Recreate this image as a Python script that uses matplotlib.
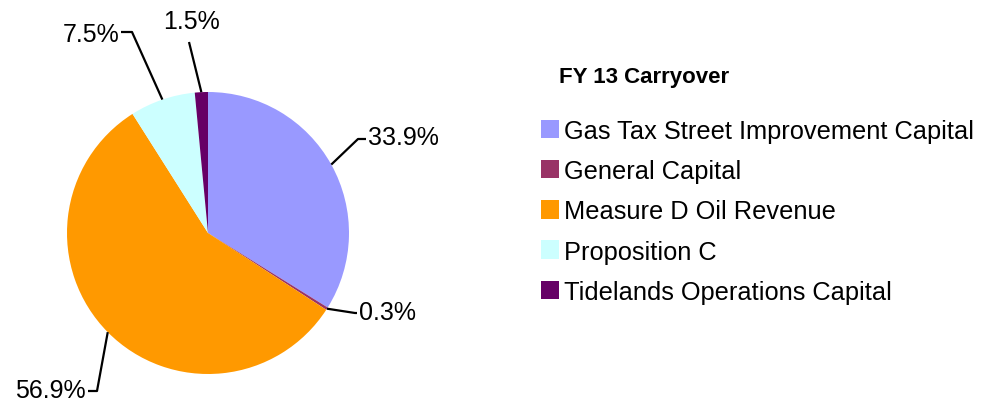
import numpy as np
import matplotlib.pyplot as plt
from matplotlib.patches import Patch

plt.rcParams['font.family'] = ['Liberation Sans', 'DejaVu Sans']

# data
funds = ['Gas Tax Street Improvement Capital', 'General Capital',
         'Measure D Oil Revenue', 'Proposition C', 'Tidelands Operations Capital']
shares = [33.9, 0.3, 56.9, 7.5, 1.5]
pct_labels = ['33.9%', '0.3%', '56.9%', '7.5%', '1.5%']
colors = ['#9999FF', '#993366', '#FF9900', '#CCFFFF', '#660066']
title = 'FY 13 Carryover'

W, H = 1000, 406
fig = plt.figure(figsize=(W / 100, H / 100), dpi=100)
ax = fig.add_axes([0, 0, 1, 1])

cx, cy, R = 208, H - 234, 141
wedges, _ = ax.pie(shares, colors=colors, startangle=90, counterclock=False,
                   center=(cx, cy), radius=R, frame=True,
                   wedgeprops=dict(linewidth=0))
ax.set_xlim(0, W)
ax.set_ylim(0, H)
ax.set_aspect('equal')
ax.axis('off')

# leader line layout: elbow point, end of horizontal tick, text anchor
elbows = [(358, H - 140), (355, H - 314), (97, H - 392), (132, H - 33), (189, H - 43)]
ends = [(366, H - 140), (357, H - 314), (88, H - 392), (121, H - 33), (189, H - 43)]
text_pos = [(368, H - 138), (359, H - 313), (86, H - 391), (119, H - 35), (191, H - 22)]
aligns = ['left', 'left', 'right', 'right', 'center']

for w, el, en, tp, ha, lab in zip(wedges, elbows, ends, text_pos, aligns, pct_labels):
    ang = np.deg2rad((w.theta1 + w.theta2) / 2)
    sx, sy = cx + R * np.cos(ang), cy + R * np.sin(ang)
    ax.plot([sx, el[0], en[0]], [sy, el[1], en[1]], color='black', lw=1.6,
            solid_capstyle='butt')
    ax.text(tp[0], tp[1], lab, ha=ha, va='center', fontsize=18)

fig.text(559 / W, 1 - 78 / H, title, fontsize=16, fontweight='bold',
         ha='left', va='center')
handles = [Patch(facecolor=c, edgecolor='none') for c in colors]
fig.legend(handles, funds, loc='upper left', bbox_to_anchor=(528 / W, 1 - 107 / H),
           frameon=False, fontsize=18.3, handlelength=0.72, handleheight=0.75,
           handletextpad=0.2, labelspacing=0.64, borderpad=0)

fig.savefig('out.png', dpi=100)
